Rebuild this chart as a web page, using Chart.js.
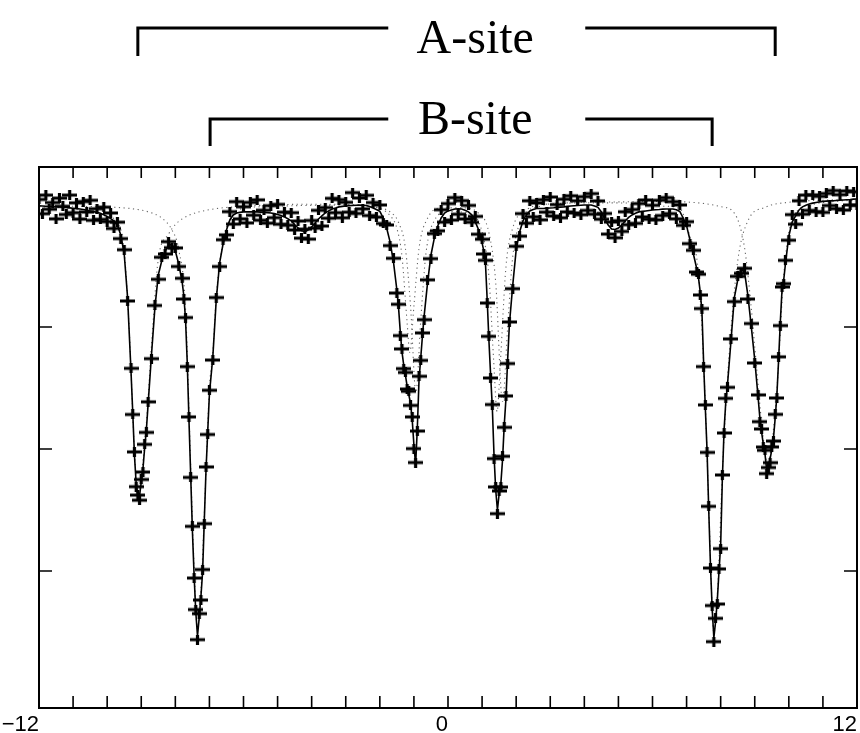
<!DOCTYPE html>
<html>
<head>
<meta charset="utf-8">
<title>Mössbauer spectrum, A-site / B-site</title>
<script src="https://cdn.jsdelivr.net/npm/chart.js@4.4.1/dist/chart.umd.min.js"></script>
<style>
  html, body { margin: 0; padding: 0; background: #fff; }
  #wrap { width: 860px; height: 733px; }
</style>
</head>
<body>
<div id="wrap"><canvas id="spectrum" width="860" height="733"></canvas></div>
<script>
// ---- data ----
// velocity in mm/s, transmission in % (axis is unlabelled in the original)
const xTickValues = [-12, 0, 12];
const xTickText = ['\u221212', '0', '12'];
const yTickValues = [70, 80, 90];

const velocity = [
  -12.0, -11.9, -11.8, -11.7, -11.6, -11.5, -11.4, -11.3, -11.2, -11.1,
  -11.0, -10.9, -10.8, -10.7, -10.6, -10.5, -10.4, -10.3, -10.2, -10.1,
  -10.0, -9.9, -9.8, -9.7, -9.6, -9.5, -9.4, -9.3, -9.25, -9.2,
  -9.15, -9.1, -9.05, -9.0, -8.95, -8.9, -8.85, -8.8, -8.7, -8.6,
  -8.5, -8.4, -8.3, -8.2, -8.1, -8.0, -7.9, -7.8, -7.75, -7.7,
  -7.65, -7.6, -7.55, -7.5, -7.45, -7.4, -7.35, -7.3, -7.25, -7.2,
  -7.15, -7.1, -7.05, -7.0, -6.9, -6.8, -6.7, -6.6, -6.5, -6.4,
  -6.3, -6.2, -6.1, -6.0, -5.9, -5.8, -5.7, -5.6, -5.5, -5.4,
  -5.3, -5.2, -5.1, -5.0, -4.9, -4.8, -4.7, -4.6, -4.5, -4.4,
  -4.3, -4.2, -4.1, -4.0, -3.9, -3.8, -3.7, -3.6, -3.5, -3.4,
  -3.3, -3.2, -3.1, -3.0, -2.9, -2.8, -2.7, -2.6, -2.5, -2.4,
  -2.3, -2.2, -2.1, -2.0, -1.9, -1.8, -1.7, -1.6, -1.5, -1.45,
  -1.4, -1.35, -1.3, -1.25, -1.2, -1.15, -1.1, -1.05, -1.0, -0.95,
  -0.9, -0.85, -0.8, -0.75, -0.7, -0.6, -0.5, -0.4, -0.3, -0.2,
  -0.1, 0.0, 0.1, 0.2, 0.3, 0.4, 0.5, 0.6, 0.7, 0.8,
  0.9, 1.0, 1.05, 1.1, 1.15, 1.2, 1.25, 1.3, 1.35, 1.4,
  1.45, 1.5, 1.55, 1.6, 1.65, 1.7, 1.75, 1.8, 1.9, 2.0,
  2.1, 2.2, 2.3, 2.4, 2.5, 2.6, 2.7, 2.8, 2.9, 3.0,
  3.1, 3.2, 3.3, 3.4, 3.5, 3.6, 3.7, 3.8, 3.9, 4.0,
  4.1, 4.2, 4.3, 4.4, 4.5, 4.6, 4.7, 4.8, 4.9, 5.0,
  5.1, 5.2, 5.3, 5.4, 5.5, 5.6, 5.7, 5.8, 5.9, 6.0,
  6.1, 6.2, 6.3, 6.4, 6.5, 6.6, 6.7, 6.8, 6.9, 7.0,
  7.1, 7.2, 7.3, 7.35, 7.4, 7.45, 7.5, 7.55, 7.6, 7.65,
  7.7, 7.75, 7.8, 7.85, 7.9, 7.95, 8.0, 8.05, 8.1, 8.15,
  8.2, 8.3, 8.4, 8.5, 8.6, 8.7, 8.8, 8.9, 9.0, 9.1,
  9.15, 9.2, 9.25, 9.3, 9.35, 9.4, 9.45, 9.5, 9.55, 9.6,
  9.65, 9.7, 9.75, 9.8, 9.85, 9.9, 10.0, 10.1, 10.2, 10.3,
  10.4, 10.5, 10.6, 10.7, 10.8, 10.9, 11.0, 11.1, 11.2, 11.3,
  11.4, 11.5, 11.6, 11.7, 11.8, 11.9, 12.0
];

// measured points (the + marks)
const counts = [
  100.45, 99.28, 100.81, 99.65, 100.20, 98.86, 100.56, 99.89, 99.22, 100.81,
  99.37, 100.17, 98.84, 100.28, 99.42, 100.38, 98.74, 99.69, 98.82, 99.82,
  98.63, 99.34, 98.07, 98.59, 97.24, 96.33, 92.13, 86.61, 82.83, 79.76,
  76.91, 76.22, 75.80, 77.50, 78.11, 80.38, 81.36, 83.86, 87.40, 91.76,
  93.91, 95.71, 95.98, 96.99, 96.50, 96.48, 94.96, 93.99, 92.29, 90.77,
  86.75, 82.63, 77.67, 73.66, 69.42, 66.84, 64.37, 66.50, 67.62, 70.12,
  73.88, 78.53, 81.19, 84.81, 87.29, 92.41, 94.95, 97.15, 97.55, 99.45,
  98.43, 100.27, 98.86, 99.85, 98.53, 100.21, 99.16, 100.42, 98.75, 99.57,
  98.51, 99.94, 98.96, 100.05, 98.42, 99.41, 98.34, 99.37, 97.95, 98.68,
  97.28, 98.02, 97.20, 98.73, 98.10, 99.56, 98.27, 99.79, 98.91, 100.54,
  99.37, 100.44, 98.95, 100.22, 99.41, 101.01, 99.30, 100.57, 99.68, 100.79,
  99.13, 100.20, 99.00, 100.00, 98.48, 98.36, 96.67, 95.63, 92.78, 91.86,
  89.29, 88.20, 86.59, 86.27, 84.91, 84.73, 83.57, 82.63, 80.03, 78.89,
  81.47, 85.96, 87.26, 89.51, 90.60, 93.86, 95.60, 97.65, 97.88, 99.61,
  98.59, 100.11, 98.76, 100.60, 99.24, 100.35, 98.85, 99.96, 98.58, 99.06,
  97.60, 97.19, 95.98, 95.46, 91.96, 89.23, 85.82, 83.64, 79.21, 76.89,
  74.70, 76.56, 76.88, 79.40, 81.77, 84.35, 87.00, 90.41, 93.14, 96.61,
  97.44, 99.29, 98.50, 100.34, 99.03, 100.16, 98.78, 100.43, 99.41, 100.65,
  99.09, 100.03, 98.95, 100.47, 99.43, 100.75, 99.34, 100.34, 99.20, 100.68,
  99.55, 100.93, 99.24, 100.33, 98.83, 99.30, 97.61, 98.60, 97.31, 98.71,
  97.83, 99.44, 98.38, 99.63, 98.49, 100.11, 99.02, 100.41, 98.83, 99.97,
  98.78, 100.38, 99.13, 100.60, 99.29, 100.27, 98.86, 100.00, 98.33, 98.63,
  96.83, 96.28, 94.50, 94.32, 92.62, 91.51, 86.75, 83.61, 79.72, 75.30,
  70.24, 67.17, 64.21, 66.12, 67.29, 70.17, 71.83, 77.87, 81.31, 84.15,
  85.05, 89.02, 92.08, 94.15, 94.40, 94.81, 92.29, 90.28, 87.05, 84.43,
  82.24, 81.64, 80.16, 79.89, 77.98, 78.48, 78.88, 80.17, 80.65, 82.84,
  84.18, 87.55, 90.11, 93.28, 93.55, 95.46, 97.11, 99.21, 98.42, 100.34,
  99.24, 100.81, 99.55, 100.83, 99.45, 100.70, 99.39, 100.94, 99.95, 101.18,
  99.69, 100.84, 99.58, 101.15, 100.00, 101.08, 99.96
];

// fitted envelope (solid line)
const fitCurve = [
  99.92, 99.91, 99.89, 99.88, 99.87, 99.85, 99.84, 99.81, 99.79, 99.76,
  99.73, 99.70, 99.67, 99.62, 99.57, 99.51, 99.45, 99.39, 99.32, 99.20,
  99.05, 98.89, 98.67, 98.34, 97.54, 95.98, 92.38, 86.31, 83.03, 79.51,
  77.21, 76.07, 76.15, 77.30, 78.36, 80.08, 81.56, 83.61, 87.70, 91.56,
  94.26, 95.41, 96.23, 96.64, 96.80, 96.23, 95.16, 93.69, 92.54, 90.57,
  87.05, 82.38, 77.87, 73.36, 69.67, 66.64, 64.67, 66.15, 67.87, 69.92,
  74.18, 78.28, 81.39, 84.51, 87.54, 92.21, 95.25, 96.80, 97.95, 98.77,
  99.18, 99.34, 99.39, 99.43, 99.43, 99.43, 99.43, 99.43, 99.41, 99.39,
  99.37, 99.34, 99.29, 99.22, 99.14, 99.02, 98.87, 98.69, 98.40, 98.11,
  97.91, 97.79, 97.95, 98.20, 98.52, 98.85, 99.10, 99.34, 99.51, 99.67,
  99.75, 99.84, 99.88, 99.92, 99.94, 99.96, 99.98, 100.00, 99.98, 99.96,
  99.88, 99.75, 99.63, 99.47, 98.93, 98.11, 96.97, 95.33, 93.03, 91.56,
  89.59, 87.95, 86.89, 86.07, 85.16, 84.43, 83.77, 82.38, 80.33, 78.69,
  81.72, 85.66, 87.46, 89.26, 90.90, 93.61, 95.90, 97.30, 98.28, 98.93,
  99.34, 99.51, 99.59, 99.67, 99.69, 99.67, 99.57, 99.43, 99.18, 98.61,
  97.95, 96.89, 96.23, 95.16, 92.21, 88.93, 86.07, 83.44, 79.51, 76.64,
  75.00, 76.31, 77.13, 79.10, 81.97, 84.10, 87.30, 90.16, 93.44, 96.31,
  97.79, 98.69, 99.18, 99.51, 99.63, 99.71, 99.71, 99.71, 99.74, 99.75,
  99.77, 99.80, 99.82, 99.84, 99.88, 99.92, 99.94, 99.96, 99.98, 100.00,
  100.00, 100.00, 99.92, 99.80, 99.43, 98.85, 98.36, 98.03, 97.99, 98.11,
  98.36, 98.69, 98.98, 99.18, 99.32, 99.43, 99.47, 99.51, 99.55, 99.59,
  99.61, 99.63, 99.66, 99.67, 99.67, 99.67, 99.61, 99.47, 98.93, 98.28,
  97.13, 95.98, 94.75, 94.02, 92.87, 91.31, 87.05, 83.36, 79.92, 75.00,
  70.49, 66.97, 64.51, 65.82, 67.54, 69.92, 72.13, 77.62, 81.56, 83.85,
  85.25, 88.77, 92.38, 93.85, 94.75, 94.51, 92.54, 89.98, 87.30, 84.18,
  82.54, 81.39, 80.41, 79.59, 78.28, 78.28, 79.18, 79.92, 80.90, 82.54,
  84.43, 87.30, 90.41, 93.03, 93.85, 95.16, 97.46, 98.61, 99.10, 99.59,
  99.84, 99.98, 100.08, 100.15, 100.20, 100.25, 100.29, 100.31, 100.33, 100.35,
  100.37, 100.39, 100.41, 100.43, 100.45, 100.48, 100.49
];

// A-site sub-spectrum (dotted)
const siteAVel = [
  -12, -11, -10.5, -10, -9.7, -9.5, -9.35, -9.2, -9.1, -9.0,
  -8.85, -8.7, -8.5, -8.2, -8.0, -7.6, -7.0, -6.0, -4.0, -2.5,
  -2.0, -1.7, -1.5, -1.35, -1.2, -1.12, -1.0, -0.85, -0.6, -0.2,
  0.4, 0.9, 1.2, 1.4, 1.6, 1.75, 1.9, 2.2, 2.7, 3.5,
  5.0, 6.5, 7.5, 8.0, 8.4, 8.7, 8.9, 9.05, 9.2, 9.37,
  9.5, 9.65, 9.85, 10.0, 10.2, 10.8, 11.4, 12
];
const siteA = [
  99.85, 99.70, 99.45, 99.05, 98.55, 96.25, 89.65, 79.85, 76.45, 77.80,
  82.15, 88.50, 95.55, 97.60, 98.40, 99.15, 99.61, 99.89, 100.06, 99.98,
  99.71, 99.13, 98.08, 95.78, 90.37, 87.91, 91.69, 96.45, 98.91, 99.74,
  99.76, 99.32, 97.73, 93.64, 83.89, 89.95, 95.78, 98.90, 99.90, 100.17,
  100.25, 100.28, 100.12, 99.86, 99.33, 96.50, 91.50, 86.80, 82.20, 78.90,
  80.45, 84.85, 94.20, 97.75, 99.35, 100.10, 100.30, 100.40
];

// B-site sub-spectrum (dotted)
const siteBVel = [
  -12, -11, -10, -9.3, -8.8, -8.4, -8.1, -7.9, -7.7, -7.55,
  -7.45, -7.35, -7.25, -7.15, -7.0, -6.9, -6.8, -6.6, -6.5, -6.2,
  -5.5, -4.5, -3.0, -2.2, -1.7, -1.45, -1.25, -1.1, -0.94, -0.8,
  -0.65, -0.4, 0.0, 0.6, 1.0, 1.2, 1.34, 1.44, 1.54, 1.7,
  1.9, 2.3, 3.0, 4.5, 5.5, 6.3, 6.8, 7.1, 7.35, 7.55,
  7.67, 7.8, 7.93, 8.05, 8.25, 8.5, 8.8, 9.3, 10.0, 11.0,
  12.0
];
const siteB = [
  99.90, 99.89, 99.83, 99.70, 99.44, 98.93, 97.95, 96.34, 91.45, 78.65,
  70.35, 65.25, 68.35, 74.65, 84.95, 87.90, 92.55, 97.05, 98.17, 99.55,
  99.85, 99.94, 99.99, 99.84, 99.43, 98.56, 96.44, 91.77, 84.64, 90.54,
  95.96, 98.72, 99.46, 99.33, 97.79, 94.16, 87.25, 83.07, 87.25, 94.91,
  98.11, 99.60, 100.08, 100.17, 100.13, 99.90, 99.70, 97.38, 94.32, 83.71,
  73.60, 64.94, 69.50, 78.17, 87.80, 95.40, 98.70, 99.80, 100.22, 100.39,
  100.46
];

// brackets above the plot: label and outer line positions (mm/s)
const bracketLabels = ['A-site', 'B-site'];
const bracketFrom = [-9.1, -6.98];
const bracketTo = [9.6, 7.75];
const bracketLabelAt = 0.8;

// ---- drawing ----
function pairs(xs, ys) {
  return xs.map((v, i) => ({ x: v, y: ys[i] }));
}

// "+" mark, wider than tall like in the scan
function makeCross() {
  const c = document.createElement('canvas');
  c.width = 15;
  c.height = 10;
  const g = c.getContext('2d');
  g.strokeStyle = '#000';
  g.lineWidth = 3.2;
  g.beginPath();
  g.moveTo(0, 5); g.lineTo(15, 5);
  g.moveTo(7.5, 0); g.lineTo(7.5, 10);
  g.stroke();
  return c;
}

const frameAndTicks = {
  id: 'frameAndTicks',
  afterDatasetsDraw(chart) {
    const { ctx, chartArea: a, scales: { x, y } } = chart;
    ctx.save();
    ctx.strokeStyle = '#000';
    ctx.lineWidth = 2;
    ctx.strokeRect(a.left, a.top, a.right - a.left, a.bottom - a.top);
    ctx.lineWidth = 1.6;
    ctx.beginPath();
    x.ticks.forEach(t => {
      if (t.value <= x.min || t.value >= x.max) return;
      const px = x.getPixelForValue(t.value);
      ctx.moveTo(px, a.top); ctx.lineTo(px, a.top + 11);
      ctx.moveTo(px, a.bottom); ctx.lineTo(px, a.bottom - 12);
    });
    yTickValues.forEach(v => {
      const py = y.getPixelForValue(v);
      ctx.moveTo(a.left, py); ctx.lineTo(a.left + 13, py);
      ctx.moveTo(a.right, py); ctx.lineTo(a.right - 13, py);
    });
    ctx.stroke();
    ctx.restore();
  }
};

const siteBrackets = {
  id: 'siteBrackets',
  afterDraw(chart) {
    const { ctx, scales: { x } } = chart;
    const rows = [{ line: 28, base: 53, drop: 28 }, { line: 119, base: 134, drop: 27 }];
    ctx.save();
    ctx.font = '48px "Liberation Serif", "Times New Roman", serif';
    ctx.textAlign = 'center';
    ctx.fillStyle = '#000';
    ctx.strokeStyle = '#000';
    ctx.lineWidth = 3;
    const xc = x.getPixelForValue(bracketLabelAt);
    bracketLabels.forEach((label, i) => {
      const r = rows[i];
      const x0 = x.getPixelForValue(bracketFrom[i]);
      const x1 = x.getPixelForValue(bracketTo[i]);
      ctx.beginPath();
      ctx.moveTo(x0, r.line + r.drop); ctx.lineTo(x0, r.line); ctx.lineTo(xc - 87, r.line);
      ctx.moveTo(xc + 110, r.line); ctx.lineTo(x1, r.line); ctx.lineTo(x1, r.line + r.drop);
      ctx.stroke();
      ctx.fillText(label, xc, r.base);
    });
    ctx.restore();
  }
};

new Chart(document.getElementById('spectrum'), {
  type: 'scatter',
  data: {
    datasets: [
      {
        label: 'data',
        data: pairs(velocity, counts),
        showLine: false,
        pointStyle: makeCross(),
        pointRadius: 6,
        order: 0
      },
      {
        label: 'fit',
        data: pairs(velocity, fitCurve),
        showLine: true,
        borderColor: '#000',
        borderWidth: 1.6,
        pointRadius: 0,
        tension: 0,
        order: 1
      },
      {
        label: 'A-site',
        data: pairs(siteAVel, siteA),
        showLine: true,
        borderColor: '#666',
        borderWidth: 1.1,
        borderDash: [1.2, 3.5],
        pointRadius: 0,
        cubicInterpolationMode: 'monotone',
        order: 2
      },
      {
        label: 'B-site',
        data: pairs(siteBVel, siteB),
        showLine: true,
        borderColor: '#666',
        borderWidth: 1.1,
        borderDash: [1.2, 3.5],
        pointRadius: 0,
        cubicInterpolationMode: 'monotone',
        order: 3
      }
    ]
  },
  options: {
    responsive: false,
    animation: false,
    devicePixelRatio: 1,
    events: [],
    layout: { padding: { top: 167, left: 39, right: 3, bottom: 0 }, autoPadding: false },
    plugins: { legend: { display: false }, tooltip: { enabled: false } },
    scales: {
      x: {
        type: 'linear',
        min: -12,
        max: 12,
        grid: { display: false, drawTicks: false, tickLength: 0 },
        border: { display: false },
        ticks: {
          stepSize: 1,
          autoSkip: false,
          maxRotation: 0,
          align: 'end',
          padding: 4,
          color: '#000',
          font: { family: '"Liberation Sans", Arial, sans-serif', size: 22 },
          callback: (v) => {
            const i = xTickValues.indexOf(v);
            return i >= 0 ? xTickText[i] : '';
          }
        },
        afterFit: (scale) => {
          scale.height = 25;
          scale.paddingLeft = 0;
          scale.paddingRight = 0;
        }
      },
      y: {
        display: false,
        min: 58.77,
        max: 103.11
      }
    }
  },
  plugins: [frameAndTicks, siteBrackets]
});
</script>
</body>
</html>
